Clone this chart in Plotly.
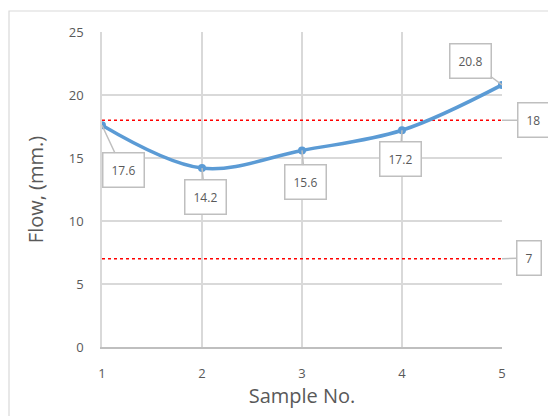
import plotly.graph_objects as go

samples = [1, 2, 3, 4, 5]
flow = [17.6, 14.2, 15.6, 17.2, 20.8]
upper_limit = 18
lower_limit = 7
y_ticks = [0, 5, 10, 15, 20, 25]

# label box offsets (pixels) from each point
flow_label_offsets = [(21, 45), (3, 29), (3, 32), (-2, 29), (-32, -24)]

label_font = dict(family="Open Sans, Noto Sans, sans-serif", size=12, color="#595959")
axis_font = dict(family="Open Sans, Noto Sans, sans-serif", size=13, color="#595959")
title_font = dict(family="Open Sans, Noto Sans, sans-serif", size=20, color="#595959")

fig = go.Figure()

for level in (upper_limit, lower_limit):
    fig.add_trace(go.Scatter(
        x=[samples[0], samples[-1]], y=[level, level], mode="lines",
        line=dict(color="#ff0000", width=1.5, dash="dot"),
        hoverinfo="skip", showlegend=False,
    ))

fig.add_trace(go.Scatter(
    x=samples, y=flow, mode="lines+markers",
    line=dict(color="#5b9bd5", width=3.5, shape="spline", smoothing=1),
    marker=dict(color="#5b9bd5", size=8),
    showlegend=False,
))

annotations = []
for xv, yv, (ax, ay) in zip(samples, flow, flow_label_offsets):
    annotations.append(dict(
        x=xv, y=yv, xref="x", yref="y", text=f"{yv}",
        showarrow=True, arrowhead=0, arrowwidth=1.5, arrowcolor="#bfbfbf",
        ax=ax, ay=ay, font=label_font, bgcolor="white",
        bordercolor="#bfbfbf", borderwidth=1.5, borderpad=8,
    ))
for level, (ax, ay) in ((upper_limit, (31, 0)), (lower_limit, (27, -1))):
    annotations.append(dict(
        x=samples[-1], y=level, xref="x", yref="y", text=f"{level}",
        showarrow=True, arrowhead=0, arrowwidth=1.5, arrowcolor="#bfbfbf",
        ax=ax, ay=ay, font=label_font, bgcolor="white",
        bordercolor="#bfbfbf", borderwidth=1.5, borderpad=8,
    ))

fig.update_layout(
    width=548, height=416,
    margin=dict(l=102, r=46, t=32, b=69),
    paper_bgcolor="white", plot_bgcolor="white",
    annotations=annotations,
    shapes=[dict(
        type="rect", xref="paper", yref="paper",
        x0=-0.2325, x1=1.2, y0=-0.3, y1=1.0667,
        line=dict(color="#d9d9d9", width=1.2), fillcolor="rgba(0,0,0,0)", layer="below",
    )],
)

fig.update_xaxes(
    range=[1, 5], tickvals=samples, ticktext=[str(s) for s in samples],
    showgrid=True, gridcolor="#d9d9d9", gridwidth=1.5,
    showline=True, linecolor="#bfbfbf", linewidth=2,
    zeroline=False, ticklabelstandoff=13, tickfont=axis_font,
    title=dict(text="Sample No.", font=title_font, standoff=4),
)
fig.update_yaxes(
    range=[0, 25], tickvals=y_ticks,
    showgrid=True, gridcolor="#d9d9d9", gridwidth=1.5,
    showline=True, linecolor="#d9d9d9", linewidth=1.5,
    zeroline=False, ticklabelstandoff=14, tickfont=axis_font,
    title=dict(text="Flow, (mm.)", font=title_font, standoff=20),
)

fig.write_html("out.html")
